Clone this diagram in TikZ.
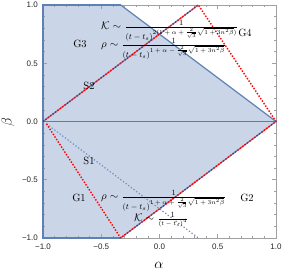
\documentclass[tikz,border=0pt]{standalone}
\usepackage{fontspec}
\setsansfont{Liberation Sans}
\usepackage{amsmath}
\definecolor{regfill}{RGB}{203,213,232}
\definecolor{mblue}{RGB}{94,129,181}
\definecolor{dotblue}{RGB}{110,145,200}
\definecolor{framegray}{RGB}{160,160,160}
\definecolor{zerogray}{RGB}{120,120,120}
\newcommand{\numb}[1]{\hbox{\fontsize{8}{9}\selectfont$#1$}}
\newcommand{\denb}[2]{\hbox{\fontsize{8}{9}\selectfont$(t-t_s)^{\hbox{\fontsize{#2}{7}\selectfont$#1$}}$}}
\tikzset{
  bline/.style={mblue, line width=1.2pt},
  rdots/.style={red, line width=1.4pt, dash pattern=on 1.4pt off 1.6pt},
  bdots/.style={dotblue, line width=1.2pt, dash pattern=on 1.3pt off 2pt},
  ticklab/.style={font=\sffamily\fontsize{8}{9}\selectfont, text=black!85, inner sep=1pt},
  region/.style={font=\fontsize{10.5}{11}\selectfont, inner sep=0pt},
  formula/.style={font=\fontsize{11}{12}\selectfont, inner sep=0pt, anchor=base west},
}
\begin{document}
\begin{tikzpicture}[x=1pt,y=1pt]
\useasboundingbox (0,0) rectangle (285,-275);
\begin{scope}[shift={(159.5,-121.5)}, x=116.5pt, y=116.5pt]
  \coordinate (BL) at (-1,-1);
  \coordinate (TL) at (-1,1);
  \coordinate (TR) at (1,1);
  \coordinate (BR) at (1,-1);
  \coordinate (L0) at (-1,0);
  \coordinate (R0) at (1,0);
  \coordinate (T1) at (-1/3,1);
  \coordinate (T2) at (1/3,1);
  \coordinate (B1) at (-1/3,-1);
  \coordinate (B2) at (1/3,-1);
  \coordinate (L0s) at (-0.97,-0.02);
  % region
  \fill[regfill] (BL) -- (TL) -- (T1) -- (R0) -- (B1) -- cycle;
  % frame and ticks
  \draw[framegray, line width=0.5pt] (BL) rectangle (TR);
  \foreach \v in {-1,-0.5,0,0.5,1} {
    \draw[framegray, line width=0.5pt] (\v,-1) -- ++(0,4pt);
    \draw[framegray, line width=0.5pt] (\v,1) -- ++(0,-4pt);
    \draw[framegray, line width=0.5pt] (-1,\v) -- ++(4pt,0);
    \draw[framegray, line width=0.5pt] (1,\v) -- ++(-4pt,0);
  }
  \foreach \v in {-0.9,-0.8,-0.7,-0.6,-0.4,-0.3,-0.2,-0.1,0.1,0.2,0.3,0.4,0.6,0.7,0.8,0.9} {
    \draw[framegray, line width=0.4pt] (\v,-1) -- ++(0,2pt);
    \draw[framegray, line width=0.4pt] (\v,1) -- ++(0,-2pt);
    \draw[framegray, line width=0.4pt] (-1,\v) -- ++(2pt,0);
    \draw[framegray, line width=0.4pt] (1,\v) -- ++(-2pt,0);
  }
  % zero line
  \draw[zerogray, line width=0.8pt] (L0) -- (R0);
  % region boundary
  \draw[bline, line width=1.6pt] (B1) -- (BL) -- (TL) -- (T1);
  \draw[bline] (T1) -- (R0) -- (B1);
  \draw[bline] (L0) -- (T2);
  % dotted lines
  \draw[bdots] (L0s) -- (B2);
  \draw[rdots] (L0) -- (T2) -- (R0) -- (B1);
  \draw[rdots] (L0s) -- (B1);
  % tick labels
  \foreach \v/\t in {-1/{−1.0},-0.5/{−0.5},0/{0.0},0.5/{0.5},1/{1.0}} {
    \node[ticklab, anchor=north] (xl\v) at ([yshift=-5pt]\v,-1) {\t};
    \node[ticklab, anchor=east] (yl\v) at ([xshift=-4pt]-1,\v) {\t};
  }
\end{scope}
% axis labels
\node[font=\fontsize{13.5}{14}\selectfont] (alab) at (159,-265) {$\alpha$};
\node[font=\fontsize{13.5}{14}\selectfont, rotate=90] (blab) at (8,-122) {$\beta$};
% region labels
\node[region] (g3) at (80,-44) {G3};
\node[region] (g4) at (245,-33) {G4};
\node[region] (g1) at (79,-198) {G1};
\node[region] (g2) at (247,-198) {G2};
\node[region] (s2) at (89,-86) {S2};
\node[region] (s1) at (89,-161) {S1};
% formulas
\node[formula] (fk1) at (101,-29.7) {$\mathcal{K}\sim\frac{\numb{1}}{\denb{2(1+\alpha+\frac{2}{\sqrt{3}}\sqrt{1+3n^2\beta})}{6.5}}$};
\node[formula] (fr1) at (101,-47.7) {$\rho\sim\frac{\numb{1}}{\denb{1+\alpha-\frac{2}{\sqrt{3}}\sqrt{1+3n^2\beta}}{6.5}}$};
\node[formula] (fr2) at (101,-199.7) {$\rho\sim\frac{\numb{1}}{\denb{1+\alpha+\frac{2}{\sqrt{3}}\sqrt{1+3n^2\beta}}{6.5}}$};
\node[formula] (fk2) at (134,-221.7) {$\mathcal{K}\sim\frac{\numb{1}}{\hbox{\fontsize{6.5}{7}\selectfont$(t-t_s)^4$}}$};
\end{tikzpicture}
\end{document}
